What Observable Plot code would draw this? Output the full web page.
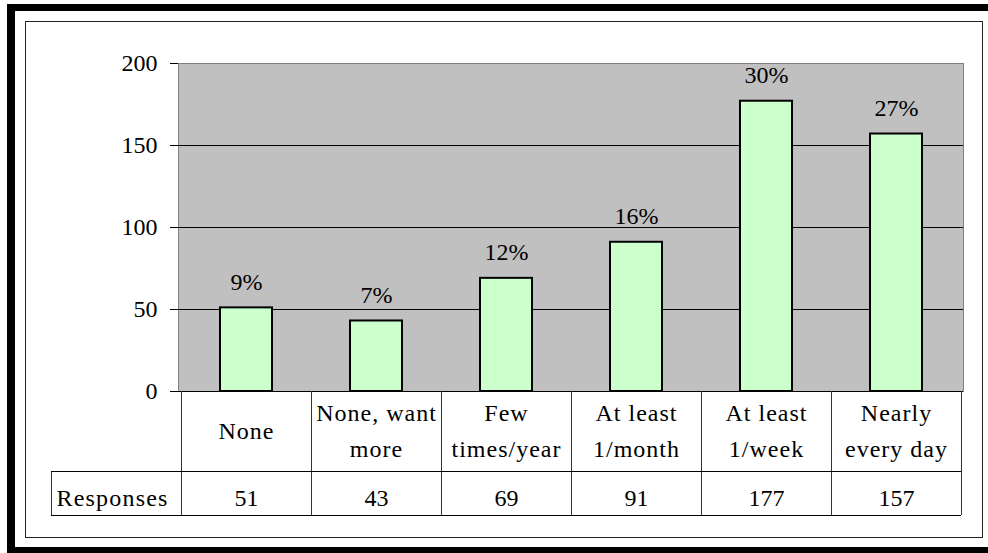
<!DOCTYPE html>
<html>
<head>
<meta charset="utf-8">
<script src="https://cdn.jsdelivr.net/npm/d3@7"></script>
<script src="https://cdn.jsdelivr.net/npm/@observablehq/plot@0.6"></script>
<style>
  html, body { margin: 0; padding: 0; background: #fff; }
  #wrap { position: relative; width: 988px; height: 553px; overflow: hidden; }
  #outer {
    position: absolute; left: 7px; top: 4px; width: 1000px; height: 549px;
    box-sizing: border-box;
    border-top: 7px solid #000; border-left: 8px solid #000; border-bottom: 6px solid #000;
  }
  #inner {
    position: absolute; left: 25px; top: 21px; width: 958px; height: 517px;
    box-sizing: border-box; border: 1px solid #222;
  }
  #chart { position: absolute; left: 0; top: 0; }
</style>
</head>
<body>
<div id="wrap">
  <div id="outer"></div>
  <div id="inner"></div>
  <div id="chart"></div>
</div>
<script>
// Survey: how often respondents take part, with counts and shares
const categories = ["None", "None, want\nmore", "Few\ntimes/year", "At least\n1/month", "At least\n1/week", "Nearly\nevery day"];
const responses = [51, 43, 69, 91, 177, 157];
const shares = ["9%", "7%", "12%", "16%", "30%", "27%"];
const yTicks = [0, 50, 100, 150, 200];
const rowHeader = "Responses";

const rows = categories.map((category, i) => ({category, responses: responses[i], share: shares[i]}));

const serif = "'Liberation Serif', 'Times New Roman', serif";
const textBase = {fontSize: 24, textAnchor: "middle", lineAnchor: "middle", fill: "#000"};

const chart = Plot.plot({
  width: 988,
  height: 553,
  marginLeft: 178,
  marginRight: 25,
  marginTop: 63,
  marginBottom: 162,
  style: {
    fontFamily: serif,
    fontSize: "24px",
    color: "#000",
    background: "transparent",
    overflow: "visible"
  },
  x: {domain: categories, paddingInner: 0.6, paddingOuter: 0.3, axis: null},
  y: {domain: [0, 200], axis: null},
  marks: [
    Plot.frame({fill: "#c0c0c0", stroke: "#808080"}),
    Plot.ruleY([50, 100, 150], {stroke: "#000"}),
    Plot.axisY({ticks: yTicks, tickSize: 8, tickPadding: 13, fontSize: 24, label: null}),
    Plot.barY(rows, {x: "category", y: "responses", fill: "#ccffcc", stroke: "#000", strokeWidth: 2}),
    Plot.ruleY([0], {stroke: "#000"}),
    // share labels above the bars
    Plot.text(rows, {...textBase, x: "category", y: "responses", text: "share", dy: -26}),
    // data table: category row
    Plot.text(rows, {...textBase, x: "category", text: "category", frameAnchor: "bottom", dy: 36, lineHeight: 1.48}),
    // data table: response counts
    Plot.text(rows, {...textBase, x: "category", text: "responses", frameAnchor: "bottom", dy: 107}),
    Plot.text([rowHeader], {...textBase, text: d => d, frameAnchor: "bottom-left", dx: -66, dy: 107})
  ]
});

document.getElementById("chart").appendChild(chart);

// every label in the serif face
chart.querySelectorAll("text").forEach(t => {
  t.style.fontFamily = serif;
  t.style.fontVariantNumeric = "normal";
});

// wider letter spacing for the word labels of the table
const textGroups = chart.querySelectorAll('g[aria-label="text"]');
if (textGroups[1]) textGroups[1].setAttribute("letter-spacing", "1");
if (textGroups[3]) textGroups[3].setAttribute("letter-spacing", "1.2");

// table grid, laid out from the chart's own scales
const xs = chart.scale("x");
const ys = chart.scale("y");
const step = xs.step;
const gap = step - xs.bandwidth;
const edges = categories.map(c => xs.apply(c) - gap / 2);
edges.push(edges[edges.length - 1] + step);
const tableTop = ys.apply(0);
const catRow = 80;
const valRow = 44;
const headerLeft = edges[0] - step;

const grid = d3.select(chart).append("g")
  .attr("fill", "none")
  .attr("shape-rendering", "crispEdges");

grid.selectAll("line.v")
  .data(edges)
  .join("line")
  .attr("class", "v")
  .attr("x1", d => d).attr("x2", d => d)
  .attr("y1", tableTop).attr("y2", tableTop + catRow + valRow)
  .attr("stroke", "#333");

grid.append("line")
  .attr("x1", headerLeft).attr("x2", headerLeft)
  .attr("y1", tableTop + catRow).attr("y2", tableTop + catRow + valRow)
  .attr("stroke", "#333");

grid.selectAll("line.h")
  .data([tableTop + catRow, tableTop + catRow + valRow])
  .join("line")
  .attr("class", "h")
  .attr("x1", headerLeft).attr("x2", edges[edges.length - 1])
  .attr("y1", d => d).attr("y2", d => d)
  .attr("stroke", "#000");
</script>
</body>
</html>
